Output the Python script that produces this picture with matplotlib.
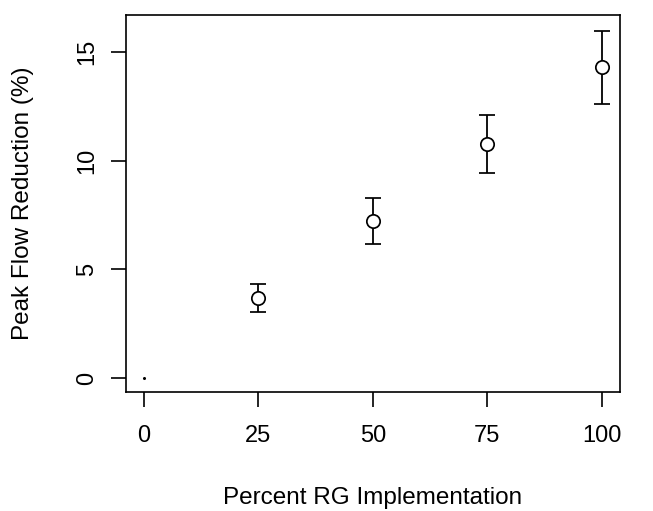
import matplotlib
matplotlib.use("Agg")
import matplotlib.pyplot as plt

pct = [0, 25, 50, 75, 100]
reduction = [0.0, 3.70, 7.22, 10.76, 14.28]
upper = [0.0, 4.33, 8.26, 12.09, 15.95]
lower = [0.0, 3.06, 6.17, 9.41, 12.59]
xticks = [0, 25, 50, 75, 100]
yticks = [0, 5, 10, 15]

plt.rcParams['font.family'] = ['Liberation Sans', 'DejaVu Sans']

W, H = 653, 511
fig = plt.figure(figsize=(W / 100, H / 100), dpi=100)
ax = fig.add_axes([0.1925, 0.2323, 0.757, 0.7383])

# zero point drawn as a tiny dot
ax.plot(pct[:1], reduction[:1], marker='o', markersize=1.2, color='black', linestyle='none')
yerr = [[r - l for r, l in zip(reduction[1:], lower[1:])],
        [u - r for u, r in zip(upper[1:], reduction[1:])]]
ax.errorbar(pct[1:], reduction[1:], yerr=yerr, fmt='o', mfc='white', mec='black',
            markersize=9.6, mew=1.25, ecolor='black', elinewidth=1.3, capsize=5.8,
            capthick=1.3, color='black')

ax.set_xlim(-4, 104)
ax.set_ylim(-0.643, 16.68)
ax.set_xticks(xticks)
ax.set_yticks(yticks)
ax.set_xticklabels([str(v) for v in xticks])
ax.set_yticklabels([str(v) for v in yticks], rotation=90, va='center')
ax.tick_params(axis='both', direction='out', length=10.6, width=1.2, labelsize=17, colors='black')
ax.tick_params(axis='x', pad=13)
ax.tick_params(axis='y', pad=9.5)
for s in ax.spines.values():
    s.set_linewidth(1.2)
    s.set_color('black')

fig.text(373 / W, 1 - 504 / H, 'Percent RG Implementation', fontsize=17.5,
         ha='center', va='baseline')
fig.text(23 / W, 1 - 203 / H, 'Peak Flow Reduction (%)', fontsize=17.5,
         ha='center', va='center', rotation=90)

fig.savefig('out.png', dpi=100)
